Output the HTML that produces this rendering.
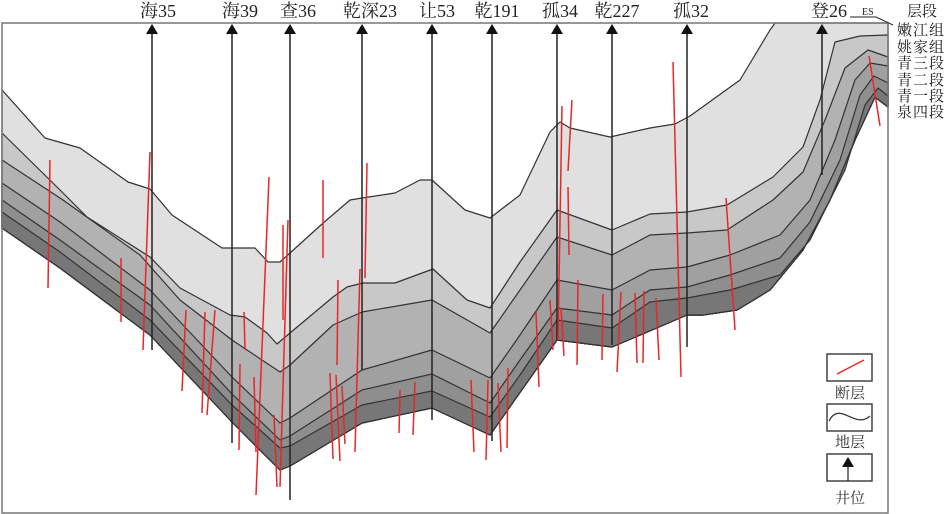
<!DOCTYPE html>
<html><head><meta charset="utf-8"><style>
html,body{margin:0;padding:0;background:#fff;}
svg{display:block;font-family:"Liberation Serif","Noto Serif CJK SC",serif;}
</style></head><body>
<svg width="947" height="514" viewBox="0 0 947 514" xmlns="http://www.w3.org/2000/svg">
<rect x="0" y="0" width="947" height="514" fill="#fff"/>
<g stroke="#333" stroke-width="1.2" stroke-linejoin="round">
<polygon fill="#e0e0e0" points="2,90 45,138 80,148 128,182 150,189 172,215 222,248 255,248 268,262 280,262 290,253 322,224 350,200 362,198 395,193 420,180 432,180 465,210 490,218 520,195 550,132 560,122 570,128 610,137 650,128 675,124 690,116 740,80 770,30 775,23 888,23 888,107 875,97 855,140 830,200 803,250 770,290 737,310 703,315 687,315 612,347 557,340 490,435 432,408 362,423 290,466 280,470 232,422 150,335 60,268 2,228"/>
<polygon fill="#c8c8c8" points="2,133 60,190 87,217 150,257 180,288 230,315 245,317 267,333 277,344 290,333 333,297 347,287 363,283 395,283 433,269 467,300 490,308 520,262 557,210 612,230 650,214 687,212 727,205 773,177 803,147 820,100 835,42 860,36 888,35 888,107 875,97 855,140 830,200 803,250 770,290 737,310 703,315 687,315 612,347 557,340 490,435 432,408 362,423 290,466 280,470 232,422 150,335 60,268 2,228"/>
<polygon fill="#b2b2b2" points="2,160 63,200 140,255 180,300 232,340 280,372 290,365 333,325 362,312 432,300 490,333 520,290 557,237 612,255 650,235 687,233 727,230 773,200 803,172 825,120 845,68 868,50 888,57 888,107 875,97 855,140 830,200 803,250 770,290 737,310 703,315 687,315 612,347 557,340 490,435 432,408 362,423 290,466 280,470 232,422 150,335 60,268 2,228"/>
<polygon fill="#a0a0a0" points="2,183 60,222 150,290 232,377 280,423 290,418 362,370 432,350 490,378 520,335 557,280 612,290 650,270 687,267 730,255 780,235 810,200 835,140 855,80 870,63 888,66 888,107 875,97 855,140 830,200 803,250 770,290 737,310 703,315 687,315 612,347 557,340 490,435 432,408 362,423 290,466 280,470 232,422 150,335 60,268 2,228"/>
<polygon fill="#8e8e8e" points="2,200 60,240 150,305 232,394 280,440 290,436 362,390 432,374 490,403 520,360 557,308 612,315 650,290 687,287 730,275 780,258 810,222 840,160 860,95 874,76 888,83 888,107 875,97 855,140 830,200 803,250 770,290 737,310 703,315 687,315 612,347 557,340 490,435 432,408 362,423 290,466 280,470 232,422 150,335 60,268 2,228"/>
<polygon fill="#777" points="2,212 60,252 150,320 232,405 280,448 290,446 362,405 432,391 490,417 520,375 557,320 612,328 650,302 687,298 730,290 780,275 810,240 845,170 865,105 878,88 888,96 888,107 875,97 855,140 830,200 803,250 770,290 737,310 703,315 687,315 612,347 557,340 490,435 432,408 362,423 290,466 280,470 232,422 150,335 60,268 2,228"/>
</g>
<rect x="2" y="23" width="886" height="490" fill="none" stroke="#777" stroke-width="1.5"/>
<g stroke="#222" stroke-width="1.5">
<line x1="152" y1="30" x2="152" y2="350"/>
<line x1="232" y1="30" x2="232" y2="443"/>
<line x1="290" y1="30" x2="290" y2="500"/>
<line x1="362" y1="30" x2="362" y2="370"/>
<line x1="432" y1="30" x2="432" y2="420"/>
<line x1="492" y1="30" x2="492" y2="441"/>
<line x1="557" y1="30" x2="557" y2="340"/>
<line x1="612" y1="30" x2="612" y2="345"/>
<line x1="687" y1="30" x2="687" y2="347"/>
<line x1="822" y1="30" x2="822" y2="175"/>
</g>
<g fill="#111">
<polygon points="146,34 158,34 152,24"/><polygon points="226,34 238,34 232,24"/><polygon points="284,34 296,34 290,24"/>
<polygon points="356,34 368,34 362,24"/><polygon points="426,34 438,34 432,24"/><polygon points="486,34 498,34 492,24"/>
<polygon points="551,34 563,34 557,24"/><polygon points="606,34 618,34 612,24"/><polygon points="681,34 693,34 687,24"/>
<polygon points="816,34 828,34 822,24"/>
</g>
<g stroke="#e8262a" stroke-width="1.5">
<line x1="50" y1="160" x2="48" y2="288"/><line x1="150" y1="152" x2="143" y2="350"/><line x1="121" y1="258" x2="121" y2="322"/>
<line x1="186" y1="310" x2="182" y2="391"/><line x1="205" y1="312" x2="202" y2="413"/><line x1="215" y1="310" x2="207" y2="415"/>
<line x1="244" y1="312" x2="245" y2="350"/><line x1="240" y1="364" x2="239" y2="450"/><line x1="254" y1="377" x2="256" y2="452"/>
<line x1="269" y1="177" x2="256" y2="495"/><line x1="283" y1="225" x2="283" y2="320"/><line x1="288" y1="220" x2="280" y2="487"/>
<line x1="274" y1="415" x2="277" y2="487"/><line x1="323" y1="180" x2="323" y2="258"/><line x1="338" y1="280" x2="337" y2="365"/>
<line x1="360" y1="269" x2="355" y2="452"/><line x1="367" y1="163" x2="365" y2="278"/><line x1="330" y1="373" x2="333" y2="459"/>
<line x1="336" y1="375" x2="340" y2="461"/><line x1="342" y1="386" x2="345" y2="444"/><line x1="400" y1="390" x2="399" y2="433"/>
<line x1="415" y1="382" x2="413" y2="435"/><line x1="471" y1="380" x2="474" y2="452"/><line x1="488" y1="380" x2="486" y2="460"/>
<line x1="498" y1="383" x2="501" y2="452"/><line x1="508" y1="368" x2="507" y2="448"/><line x1="536" y1="312" x2="539" y2="387"/>
<line x1="550" y1="300" x2="553" y2="350"/><line x1="561" y1="308" x2="564" y2="356"/><line x1="578" y1="280" x2="577" y2="365"/>
<line x1="603" y1="294" x2="602" y2="360"/><line x1="621" y1="292" x2="617" y2="372"/><line x1="635" y1="293" x2="637" y2="363"/>
<line x1="644" y1="291" x2="643" y2="363"/><line x1="656" y1="298" x2="659" y2="360"/><line x1="673" y1="62" x2="681" y2="377"/>
<line x1="562" y1="106" x2="558" y2="340"/><line x1="572" y1="100" x2="568" y2="171"/><line x1="568" y1="187" x2="569" y2="255"/>
<line x1="726" y1="198" x2="735" y2="330"/><line x1="869" y1="56" x2="880" y2="126"/>
</g>
<g font-size="18" fill="#222" text-anchor="middle">
<text x="158" y="17">海35</text><text x="240" y="17">海39</text><text x="298" y="17">查36</text>
<text x="370" y="17">乾深23</text><text x="437" y="17">让53</text><text x="497" y="17">乾191</text>
<text x="560" y="17">孤34</text><text x="617" y="17">乾227</text><text x="691" y="17">孤32</text><text x="829" y="17">登26</text>
</g>
<text x="862" y="15" font-size="10" fill="#222">ES</text>
<polyline points="850,17 876,17 893,25" fill="none" stroke="#222" stroke-width="1"/>
<g font-size="15" fill="#222">
<text x="907" y="16">层段</text>
<text x="897" y="35" letter-spacing="1">嫩江组</text><text x="897" y="52" letter-spacing="1">姚家组</text>
<text x="897" y="68" letter-spacing="1">青三段</text><text x="897" y="85" letter-spacing="1">青二段</text>
<text x="897" y="101" letter-spacing="1">青一段</text><text x="897" y="117" letter-spacing="1">泉四段</text>
</g>
<g fill="none" stroke="#444" stroke-width="1.5">
<rect x="827" y="354" width="45" height="27"/><rect x="827" y="404" width="45" height="27"/><rect x="827" y="454" width="45" height="27"/>
</g>
<line x1="837" y1="374" x2="864" y2="360" stroke="#e8262a" stroke-width="1.5"/>
<path d="M829,421 C840,400 855,430 870,416" fill="none" stroke="#333" stroke-width="1.2"/>
<line x1="848" y1="462" x2="848" y2="481" stroke="#222" stroke-width="1.2"/>
<polygon points="842,467 854,467 848,457" fill="#111"/>
<g font-size="15" fill="#333" text-anchor="middle">
<text x="850" y="398">断层</text><text x="850" y="447">地层</text><text x="850" y="503">井位</text>
</g>
</svg>
</body></html>
